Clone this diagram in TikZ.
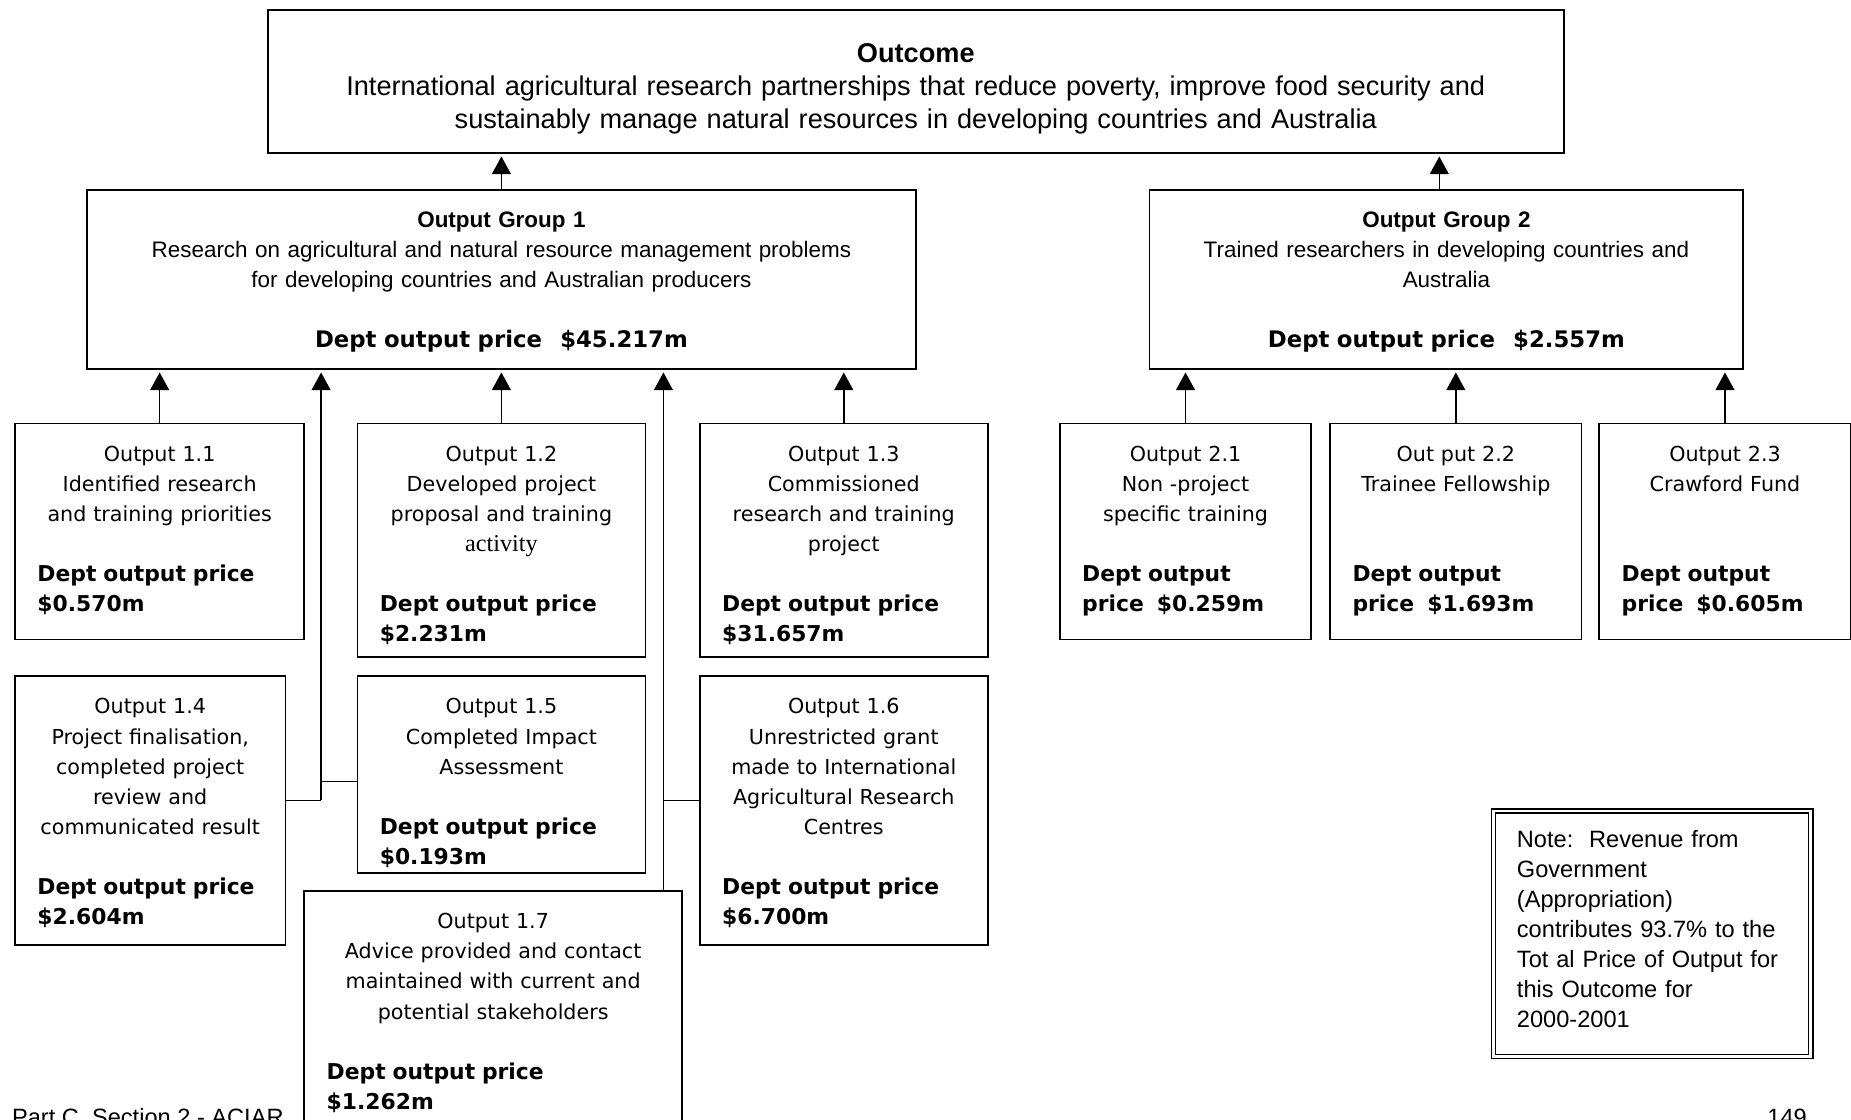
\documentclass[tikz,border=0pt]{standalone}
\usepackage{fontspec}
\setmainfont{Liberation Sans}
\newfontfamily\verdfont{DejaVu Sans}
\newfontfamily\romfont{Liberation Serif}
\usetikzlibrary{arrows.meta}
\tikzset{ % Common looks, so the boxes below stay short
	boxline/.style={draw, line width=1.5pt, inner ysep=0pt, anchor=north west}, % Plain frame, placed by its top left corner
	groupbox/.style={boxline, inner xsep=10pt, text height=32pt, text depth=120pt, font=\fontsize{19}{25.5}\selectfont}, % Output groups
	outbox/.style={boxline, inner xsep=19pt, text height=32pt, font=\verdfont\fontsize{17.5}{25.5}\selectfont}, % Single outputs
	link/.style={line width=1.3pt}, % Plain connector
	uparrow/.style={link, -{Triangle[length=15pt,width=16pt]}, shorten >=2pt}, % Connector with a filled head
}
\newcommand{\pfont}{\verdfont\bfseries\fontsize{18.5}{25.5}\selectfont}

\begin{document}
\begin{tikzpicture}[x=1pt,y=-1pt]
	\useasboundingbox (0,0) rectangle (1568,948);
	% Outcome
	\node[boxline, inner xsep=10pt, text width=1078pt, text height=44pt, text depth=77pt, font=\fontsize{23}{28}\selectfont] (outcome) at (226,8)
	{\centering\textbf{Outcome}\\International agricultural research partnerships that reduce poverty, improve food security and\\sustainably manage natural resources in developing countries and Australia\par};
	% Output groups
	\node[groupbox, text width=682pt] (og1) at (73,160)
	{\centering\textbf{Output Group 1}\\Research on agricultural and natural resource management problems\\for developing countries and Australian producers\par\vspace{25.5pt}{\pfont\fontsize{19.3}{25.5}\selectfont Dept output price\hspace{0.8em}\$45.217m}\par};
	\node[groupbox, text width=483pt] (og2) at (973,160)
	{\centering\textbf{Output Group 2}\\Trained researchers in developing countries and\\Australia\par\vspace{25.5pt}{\pfont\fontsize{19.3}{25.5}\selectfont Dept output price\hspace{0.8em}\$2.557m}\par};
	% Outputs of group 1
	\node[outbox, text width=207pt, text depth=151pt] (o11) at (12,358)
	{\centering Output 1.1\\Identified research\\and training priorities\par\vspace{25.5pt}\raggedright\pfont Dept output price\\\$0.570m\par};
	\node[outbox, text width=206pt, text depth=166pt] (o12) at (302,358)
	{\centering Output 1.2\\Developed project\\proposal and training\\{\romfont\fontsize{20.5}{25.5}\selectfont activity}\par\vspace{25.5pt}\raggedright\pfont Dept output price\\\$2.231m\par};
	\node[outbox, text width=206pt, text depth=166pt] (o13) at (592,358)
	{\centering Output 1.3\\Commissioned\\research and training\\project\par\vspace{25.5pt}\raggedright\pfont Dept output price\\\$31.657m\par};
	\node[outbox, text width=191pt, text depth=196pt] (o14) at (12,572)
	{\centering Output 1.4\\Project finalisation,\\completed project\\review and\\communicated result\par\vspace{25.5pt}\raggedright\pfont Dept output price\\\$2.604m\par};
	\node[outbox, text width=206pt, text depth=135pt] (o15) at (302,572)
	{\centering Output 1.5\\Completed Impact\\Assessment\par\vspace{25.5pt}\raggedright\pfont Dept output price\\\$0.193m\par};
	\node[outbox, text width=206pt, text depth=196pt] (o16) at (592,572)
	{\centering Output 1.6\\Unrestricted grant\\made to International\\Agricultural Research\\Centres\par\vspace{25.5pt}\raggedright\pfont Dept output price\\\$6.700m\par};
	\node[outbox, text width=282pt, text depth=218pt] (o17) at (257,754)
	{\centering Output 1.7\\Advice provided and contact\\maintained with current and\\potential stakeholders\par\vspace{25.5pt}\raggedright\pfont Dept output price\\\$1.262m\par};
	% Outputs of group 2
	\node[outbox, text width=175pt, text depth=151pt] (o21) at (897,358)
	{\centering Output 2.1\\Non -project\\specific training\par\vspace{25.5pt}\raggedright\pfont Dept output\\price\hspace{0.6em}\$0.259m\par};
	\node[outbox, text width=175pt, text depth=151pt] (o22) at (1126,358)
	{\centering Out put 2.2\\Trainee Fellowship\\\mbox{}\par\vspace{25.5pt}\raggedright\pfont Dept output\\price\hspace{0.6em}\$1.693m\par};
	\node[outbox, text width=175pt, text depth=151pt] (o23) at (1354,358)
	{\centering Output 2.3\\Crawford Fund\\\mbox{}\par\vspace{25.5pt}\raggedright\pfont Dept output\\price\hspace{0.6em}\$0.605m\par};
	% Note
	\node[boxline, double, double distance=2.5pt, line width=1pt, inner xsep=20pt, text width=229pt, text height=31pt, text depth=177pt, font=\fontsize{20}{25.4}\selectfont] (note) at (1264.5,686.5)
	{\raggedright Note:\ \ Revenue from\\Government\\(Appropriation)\\contributes 93.7\% to the\\Tot al Price of Output for\\this Outcome for\\2000-2001\par};
	% Page footer
	\node[anchor=base west, inner sep=0pt, font=\fontsize{20}{24}\selectfont] (footleft) at (10,953) {Part C\ \ Section 2 - ACIAR};
	\node[anchor=base west, inner sep=0pt, font=\fontsize{20}{24}\selectfont] (pagenum) at (1497,953) {149};
	% Links up to the outcome
	\draw[uparrow] (og1.north) -- (og1.north |- outcome.south);
	\draw[uparrow] ([xshift=-6pt]og2.north) -- ([xshift=-6pt]og2.north |- outcome.south);
	% Links up to the output groups
	\draw[uparrow] (o11.north) -- (o11.north |- og1.south);
	\draw[uparrow] (o12.north) -- (o12.north |- og1.south);
	\draw[uparrow] (o13.north) -- (o13.north |- og1.south);
	\draw[uparrow] (o21.north) -- (o21.north |- og2.south);
	\draw[uparrow] (o22.north) -- (o22.north |- og2.south);
	\draw[uparrow] (o23.north) -- (o23.north |- og2.south);
	% Shared risers for the second row
	\coordinate (ja) at (272,678);
	\coordinate (jb) at (272,662);
	\coordinate (jc) at (562,678);
	\draw[link] (o14.east |- ja) -- (ja);
	\draw[link] (o15.west |- jb) -- (jb);
	\draw[uparrow] (ja) -- (ja |- og1.south);
	\draw[link] (o16.west |- jc) -- (jc);
	\draw[uparrow] (o17.north -| jc) -- (jc |- og1.south);
\end{tikzpicture}
\end{document}
